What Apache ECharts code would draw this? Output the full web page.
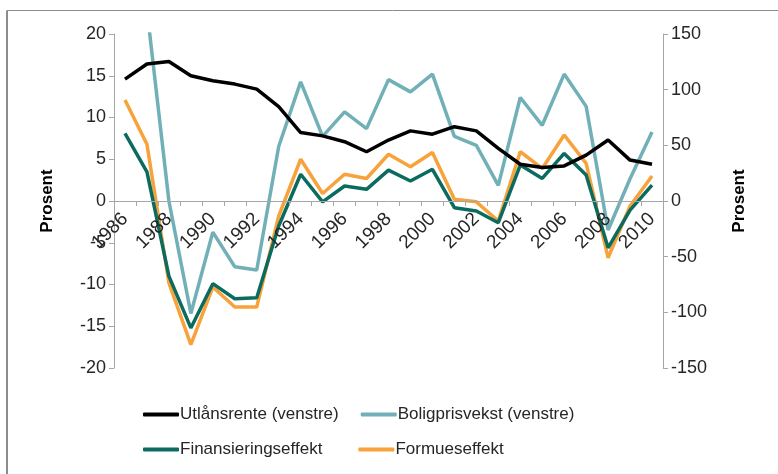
<!DOCTYPE html>
<html>
<head>
<meta charset="utf-8">
<script src="https://cdn.jsdelivr.net/npm/echarts@6/dist/echarts.min.js"></script>
<style>
  html, body { margin: 0; padding: 0; background: #fff; }
  #chart { width: 778px; height: 474px; }
</style>
</head>
<body>
<div id="chart"></div>
<script>
// data
const years = ["1986", "1987", "1988", "1989", "1990", "1991", "1992", "1993", "1994", "1995",
  "1996", "1997", "1998", "1999", "2000", "2001", "2002", "2003", "2004", "2005",
  "2006", "2007", "2008", "2009", "2010"];
const utlansrente = [14.6, 16.4, 16.7, 15.0, 14.4, 14.0, 13.4, 11.3, 8.2, 7.8,
  7.1, 5.9, 7.3, 8.4, 8.0, 8.9, 8.4, 6.3, 4.4, 4.0,
  4.2, 5.5, 7.3, 4.9, 4.4];
// plotted against the right axis
const boligprisvekst = [null, 172, 0, -101, -28, -59, -62, 49, 107, 58,
  80, 65, 109, 98, 114, 58, 50, 14, 93, 68,
  114, 85, -26, 20, 62];
const finansiering = [8.1, 3.5, -9.0, -15.2, -9.9, -11.7, -11.6, -3.0, 3.2, -0.1,
  1.8, 1.4, 3.7, 2.4, 3.8, -0.8, -1.2, -2.6, 4.3, 2.7,
  5.7, 3.1, -5.6, -1.1, 1.9];
const formue = [12.1, 6.8, -9.8, -17.2, -10.3, -12.7, -12.7, -1.8, 5.0, 0.9,
  3.2, 2.7, 5.6, 4.1, 5.8, 0.2, -0.1, -2.4, 5.9, 3.9,
  7.9, 4.5, -6.8, -0.6, 3.0];

const axisGray = "#a6a6a6";
const txt = "#262626";
const font = "Liberation Sans";

let chart = echarts.init(document.getElementById("chart"));

let option = {
  animation: false,
  textStyle: { fontFamily: font },
  graphic: [
    { type: "line", shape: { x1: 7, y1: 10.5, x2: 778, y2: 10.5 }, style: { stroke: "#8c8c8c", lineWidth: 1 } },
    { type: "line", shape: { x1: 7, y1: 10.5, x2: 7, y2: 474 }, style: { stroke: "#8c8c8c", lineWidth: 2 } }
  ],
  grid: { left: 114, right: 115, top: 34, bottom: 106 },
  legend: [
    {
      data: ["Utlånsrente (venstre)", "Boligprisvekst (venstre)"],
      left: 138, top: 401, itemWidth: 36, itemHeight: 4, itemGap: 22,
      icon: "roundRect",
      textStyle: { fontSize: 17, color: txt, padding: [0, 0, 0, -4] }
    },
    {
      data: ["Finansieringseffekt", "Formueseffekt"],
      left: 138, top: 436, itemWidth: 36, itemHeight: 4, itemGap: 36,
      icon: "roundRect",
      textStyle: { fontSize: 17, color: txt, padding: [0, 0, 0, -4] }
    }
  ],
  xAxis: {
    type: "category",
    data: years,
    boundaryGap: true,
    position: "bottom",
    offset: -167,
    z: 10,
    axisLine: { onZero: false, lineStyle: { color: axisGray, width: 1 } },
    axisTick: { show: true, interval: 0, length: 5, lineStyle: { color: axisGray } },
    axisLabel: { interval: 1, rotate: 45, fontSize: 19, color: txt, margin: 15 }
  },
  yAxis: [
    {
      type: "value", min: -20, max: 20, interval: 5,
      name: "Prosent", nameLocation: "middle", nameGap: 58, nameRotate: 90,
      nameTextStyle: { fontSize: 17, fontWeight: "bold", color: "#000" },
      axisLine: { show: true, lineStyle: { color: axisGray } },
      axisTick: { show: true, length: 5, lineStyle: { color: axisGray } },
      axisLabel: { fontSize: 18, color: txt, margin: 8 },
      splitLine: { show: false }
    },
    {
      type: "value", min: -150, max: 150, interval: 50, position: "right",
      name: "Prosent", nameLocation: "middle", nameGap: 68, nameRotate: 90,
      nameTextStyle: { fontSize: 17, fontWeight: "bold", color: "#000" },
      axisLine: { show: true, lineStyle: { color: axisGray } },
      axisTick: { show: true, length: 5, lineStyle: { color: axisGray } },
      axisLabel: { fontSize: 18, color: txt, margin: 8 },
      splitLine: { show: false }
    }
  ],
  series: [
    {
      name: "Utlånsrente (venstre)", type: "line", yAxisIndex: 0, data: utlansrente,
      symbol: "none", color: "#000000", lineStyle: { width: 3.5, color: "#000000" }, z: 4
    },
    {
      name: "Boligprisvekst (venstre)", type: "line", yAxisIndex: 1, data: boligprisvekst,
      symbol: "none", color: "#72b0b8", lineStyle: { width: 3.5, color: "#72b0b8" }, clip: true, z: 3
    },
    {
      name: "Finansieringseffekt", type: "line", yAxisIndex: 0, data: finansiering,
      symbol: "none", color: "#0b6b5e", lineStyle: { width: 3.5, color: "#0b6b5e" }, z: 2
    },
    {
      name: "Formueseffekt", type: "line", yAxisIndex: 0, data: formue,
      symbol: "none", color: "#f7a23b", lineStyle: { width: 3.5, color: "#f7a23b" }, z: 1
    }
  ]
};
chart.setOption(option);
</script>
</body>
</html>
